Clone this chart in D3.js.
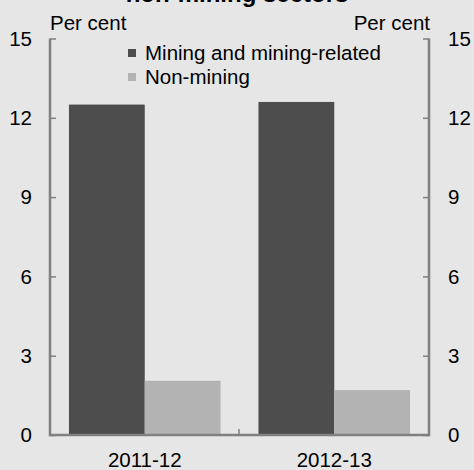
<!DOCTYPE html>
<html>
<head>
<meta charset="utf-8">
<script src="https://cdn.jsdelivr.net/npm/d3@7"></script>
<style>
  body { margin: 0; background: #e6e6e6; }
  svg { display: block; font-family: Arial, "Liberation Sans", sans-serif; }
</style>
</head>
<body>
<svg id="chart"></svg>
<script>
const years = ["2011-12", "2012-13"];
const seriesNames = ["Mining and mining-related", "Non-mining"];
const mining = [12.5, 12.6];
const nonMining = [2.05, 1.7];
const yTicks = [0, 3, 6, 9, 12, 15];

const ctx = {
  width: 474,
  height: 470,
  margin: { top: 38.5, right: 45, bottom: 35, left: 50 },
  colors: ["#4d4d4d", "#b3b3b3"],
  axisColor: "#808080",
  fontSize: 20.5
};

const svg = d3.select("#chart")
  .attr("width", ctx.width)
  .attr("height", ctx.height);

svg.append("rect")
  .attr("width", ctx.width)
  .attr("height", ctx.height)
  .attr("fill", "#e6e6e6");

const x0 = ctx.margin.left;
const x1 = ctx.width - ctx.margin.right;
const yTop = ctx.margin.top;
const yBot = ctx.height - ctx.margin.bottom;

const xScale = d3.scaleBand().domain(years).range([x0, x1]).paddingInner(0).paddingOuter(0);
const inner = d3.scaleBand().domain(seriesNames).range([0, xScale.bandwidth()]).paddingOuter(0.25).paddingInner(0);
const yScale = d3.scaleLinear().domain([0, 15]).range([yBot, yTop]);

const rows = years.map((y, i) => ({ year: y, values: [mining[i], nonMining[i]] }));

// bars
const groups = svg.selectAll("g.grp")
  .data(rows)
  .enter()
  .append("g")
    .attr("class", "grp")
    .attr("transform", d => `translate(${xScale(d.year)},0)`);

groups.selectAll("rect")
  .data(d => d.values.map((v, k) => ({ name: seriesNames[k], value: v, k })))
  .enter()
  .append("rect")
    .attr("x", d => inner(d.name))
    .attr("width", inner.bandwidth())
    .attr("y", d => yScale(d.value))
    .attr("height", d => yScale(0) - yScale(d.value))
    .attr("fill", d => ctx.colors[d.k]);

// tick marks pointing inwards on both sides
const leftAxis = svg.append("g")
  .attr("transform", `translate(${x0},0)`)
  .call(d3.axisRight(yScale).tickValues(yTicks).tickSize(6).tickFormat(""));
leftAxis.select(".domain").remove();
leftAxis.selectAll("line").attr("stroke", ctx.axisColor).attr("stroke-width", 1.5);

const rightAxis = svg.append("g")
  .attr("transform", `translate(${x1},0)`)
  .call(d3.axisLeft(yScale).tickValues(yTicks).tickSize(6).tickFormat(""));
rightAxis.select(".domain").remove();
rightAxis.selectAll("line").attr("stroke", ctx.axisColor).attr("stroke-width", 1.5);

// frame lines
svg.append("path")
  .attr("d", `M${x0},${yTop}V${yBot}H${x1}V${yTop}`)
  .attr("fill", "none")
  .attr("stroke", ctx.axisColor)
  .attr("stroke-width", 2.5);

// category divider tick
svg.append("line")
  .attr("x1", xScale(years[1]) - 0.5)
  .attr("x2", xScale(years[1]) - 0.5)
  .attr("y1", yBot)
  .attr("y2", yBot - 6)
  .attr("stroke", ctx.axisColor)
  .attr("stroke-width", 1.5);

// tick labels
svg.selectAll("text.yl")
  .data(yTicks)
  .enter()
  .append("text")
    .attr("class", "yl")
    .attr("x", x0 - 18)
    .attr("y", d => yScale(d))
    .attr("dy", "0.35em")
    .attr("text-anchor", "end")
    .style("font-size", ctx.fontSize + "px")
    .text(d => d);

svg.selectAll("text.yr")
  .data(yTicks)
  .enter()
  .append("text")
    .attr("class", "yr")
    .attr("x", x1 + 19)
    .attr("y", d => yScale(d))
    .attr("dy", "0.35em")
    .attr("text-anchor", "start")
    .style("font-size", ctx.fontSize + "px")
    .text(d => d);

svg.selectAll("text.xl")
  .data(years)
  .enter()
  .append("text")
    .attr("class", "xl")
    .attr("x", d => xScale(d) + xScale.bandwidth() / 2)
    .attr("y", 467)
    .attr("text-anchor", "middle")
    .style("font-size", ctx.fontSize + "px")
    .text(d => d);

// unit labels
svg.append("text")
  .attr("x", x0)
  .attr("y", 30)
  .style("font-size", ctx.fontSize + "px")
  .text("Per cent");

svg.append("text")
  .attr("x", x1 + 1)
  .attr("y", 30)
  .attr("text-anchor", "end")
  .style("font-size", ctx.fontSize + "px")
  .text("Per cent");

// title (cut off at top, as in the source)
svg.append("text")
  .attr("x", 237)
  .attr("y", 1.5)
  .attr("text-anchor", "middle")
  .style("font-size", "24px")
  .style("font-weight", "bold")
  .text("non-mining sectors");

// legend
const legend = svg.selectAll("g.leg")
  .data(seriesNames)
  .enter()
  .append("g")
    .attr("class", "leg")
    .attr("transform", (d, i) => `translate(128,${53 + i * 24})`);

legend.append("rect")
  .attr("x", 0)
  .attr("y", -4)
  .attr("width", 8)
  .attr("height", 8)
  .attr("fill", (d, i) => ctx.colors[i]);

legend.append("text")
  .attr("x", 17)
  .attr("y", 0)
  .attr("dy", "0.35em")
  .style("font-size", ctx.fontSize + "px")
  .text(d => d);
</script>
</body>
</html>
